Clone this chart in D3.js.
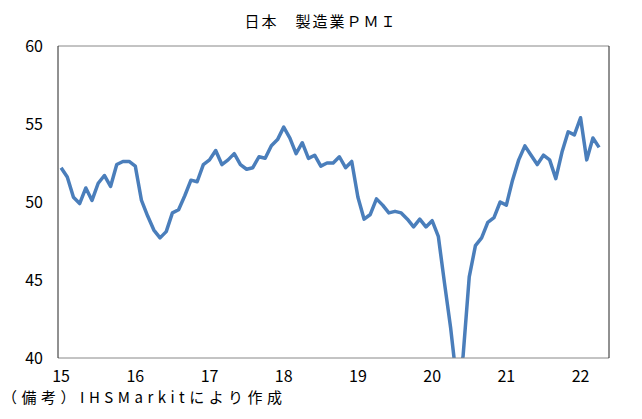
<!DOCTYPE html>
<html><head><meta charset="utf-8">
<script src="https://cdn.jsdelivr.net/npm/d3@7"></script>
<style>body{margin:0;background:#fff}text{font-family:"Noto Sans CJK JP",sans-serif}</style>
</head><body>
<script>
// monthly PMI, Jan 2015 - Apr 2022
var pmi = [52.2,51.6,50.3,49.9,50.9,50.1,51.2,51.7,51.0,52.4,52.6,52.6,
  52.3,50.1,49.1,48.2,47.7,48.1,49.3,49.5,50.4,51.4,51.3,52.4,
  52.7,53.3,52.4,52.7,53.1,52.4,52.1,52.2,52.9,52.8,53.6,54.0,
  54.8,54.1,53.1,53.8,52.8,53.0,52.3,52.5,52.5,52.9,52.2,52.6,
  50.3,48.9,49.2,50.2,49.8,49.3,49.4,49.3,48.9,48.4,48.9,48.4,
  48.8,47.8,44.8,41.9,38.4,40.1,45.2,47.2,47.7,48.7,49.0,50.0,
  49.8,51.4,52.7,53.6,53.0,52.4,53.0,52.7,51.5,53.2,54.5,54.3,
  55.4,52.7,54.1,53.5];
var yearLabels = ["15","16","17","18","19","20","21","22"];
var yTicks = [40,45,50,55,60];

var svg = d3.select("body").append("svg").attr("width",642).attr("height",419);
var x = d3.scaleLinear().domain([-0.5,88.6]).range([58,609]);
var y = d3.scaleLinear().domain([40,60]).range([358,46]);

svg.append("text").attr("x",321).attr("y",27).attr("text-anchor","middle")
  .attr("font-size",15).attr("letter-spacing",2).text("日本　製造業ＰＭＩ");

svg.append("clipPath").attr("id","c").append("rect")
  .attr("x",58).attr("y",46).attr("width",551).attr("height",312);

svg.append("path").datum(pmi).attr("clip-path","url(#c)")
  .attr("fill","none").attr("stroke","#4a7ebb").attr("stroke-width",3.5)
  .attr("stroke-linejoin","round")
  .attr("d", d3.line().x((d,i)=>x(i)).y(d=>y(d)));

// frame
svg.append("line").attr("x1",58).attr("x2",609).attr("y1",46).attr("y2",46).attr("stroke","#888");
svg.append("line").attr("x1",58).attr("x2",609).attr("y1",358).attr("y2",358).attr("stroke","#888");
svg.append("line").attr("x1",58).attr("x2",58).attr("y1",46).attr("y2",358).attr("stroke","#222");
svg.append("line").attr("x1",609).attr("x2",609).attr("y1",46).attr("y2",358).attr("stroke","#222");

svg.selectAll(".yt").data(yTicks).enter().append("text")
  .attr("x",43).attr("y",d=>y(d)+6).attr("text-anchor","end").attr("font-size",16).text(d=>d);
svg.selectAll(".xt").data(yearLabels).enter().append("text")
  .attr("x",(d,i)=>x(i*12)).attr("y",382).attr("text-anchor","middle").attr("font-size",16).text(d=>d);

svg.append("text").attr("x",2).attr("y",403).attr("font-size",15)
  .attr("textLength",280).attr("lengthAdjust","spacing").text("（備考）IHSMarkitにより作成");
</script>
</body></html>
